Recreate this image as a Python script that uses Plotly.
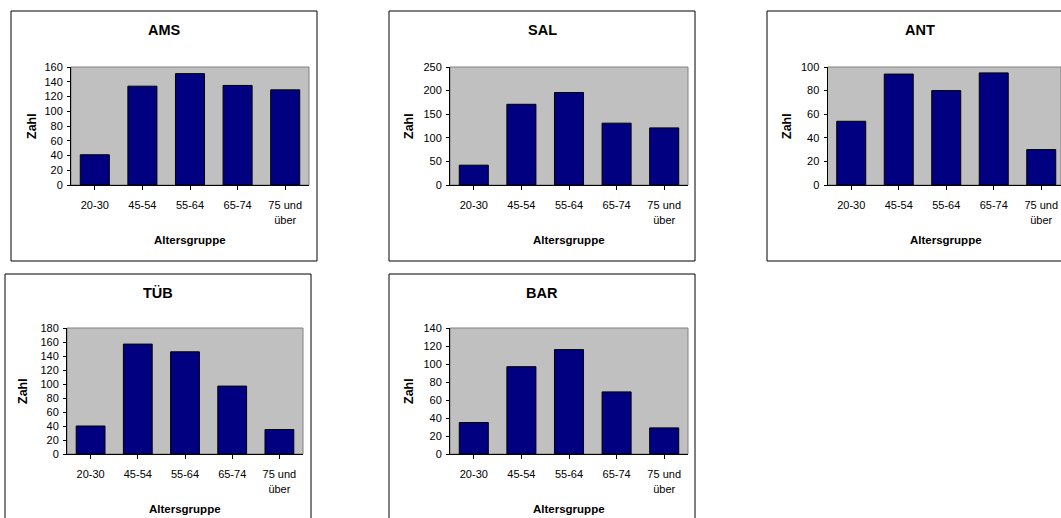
import plotly.graph_objects as go

W, H = 1061, 518

categories = ["20-30", "45-54", "55-64", "65-74", "75 und<br>über"]
titles = ["AMS", "SAL", "ANT", "TÜB", "BAR"]
ams = [41, 134, 151, 135, 129]
sal = [42, 171, 196, 131, 121]
ant = [54, 94, 80, 95, 30]
tub = [40, 157, 146, 97, 35]
bar = [35, 97, 116, 69, 29]
series = [ams, sal, ant, tub, bar]
ymax = [160, 250, 100, 180, 140]
dticks = [20, 50, 20, 20, 20]
x_title = "Altersgruppe"
y_title = "Zahl"

# layout (pixels)
boxes = [(11, 11), (389, 11), (767, 11), (5, 274), (389, 274)]
BW, BH = 306, 250
plots = [(71, 309, 67, 185), (450, 688, 67, 185), (827.5, 1065, 67, 185),
         (67, 303, 328, 454), (450, 688, 328, 454)]
zahl_x = [32, 409, 787, 23, 409]

FONT = "Liberation Sans, Arial, sans-serif"


def px(x):
    return x / W


def py(y):
    return 1 - y / H


fig = go.Figure()
shapes = []
annotations = []

for i in range(5):
    n = "" if i == 0 else str(i + 1)
    x0, x1, y0, y1 = plots[i]
    xr_right = 4.5
    if x1 > W:
        xr_right = -0.5 + 5 * (W - x0) / (x1 - x0)
        x1 = W
    fig.add_trace(go.Bar(
        x=list(range(5)), y=series[i], xaxis="x" + n, yaxis="y" + n,
        marker=dict(color="#000080", line=dict(color="#000000", width=1)),
        showlegend=False, hoverinfo="x+y",
    ))
    fig.layout["xaxis" + n] = dict(
        domain=[px(x0), px(x1)], anchor="y" + n, automargin=False,
        range=[-0.5, xr_right], tickmode="array", tickvals=list(range(5)),
        ticktext=categories, tickson="boundaries",
        ticks="outside", ticklen=4, tickcolor="black", tickwidth=1,
        showline=True, linecolor="black", linewidth=1,
        showgrid=False, zeroline=False, fixedrange=True,
        tickfont=dict(family=FONT, size=11, color="black"),
        ticklabelstandoff=6,
    )
    fig.layout["yaxis" + n] = dict(
        domain=[py(y1), py(y0)], anchor="x" + n, automargin=False,
        range=[0, ymax[i]], tickmode="linear", tick0=0, dtick=dticks[i],
        ticks="outside", ticklen=3, tickcolor="black", tickwidth=1,
        showline=True, linecolor="black", linewidth=1,
        showgrid=False, zeroline=False, fixedrange=True,
        tickfont=dict(family=FONT, size=11, color="black"),
        ticklabelstandoff=2,
    )
    # plot area border
    shapes.append(dict(type="rect", xref="x" + n + " domain", yref="y" + n + " domain",
                       x0=0, x1=1, y0=0, y1=1, line=dict(color="#808080", width=1),
                       layer="below"))
    # chart box
    bx, by = boxes[i]
    shapes.append(dict(type="rect", xref="paper", yref="paper",
                       x0=px(bx), x1=px(bx + BW), y0=py(by + BH), y1=py(by),
                       line=dict(color="black", width=1), layer="above"))
    # title
    annotations.append(dict(text="<b>%s</b>" % titles[i], xref="paper", yref="paper",
                            x=px(bx + BW / 2), y=py(by + 19), showarrow=False,
                            xanchor="center", yanchor="middle",
                            font=dict(family=FONT, size=14.5, color="black")))
    # x title
    pcx = (plots[i][0] + plots[i][1]) / 2
    annotations.append(dict(text="<b>%s</b>" % x_title, xref="paper", yref="paper",
                            x=px(pcx), y=py(y1 + 55), showarrow=False,
                            xanchor="center", yanchor="middle",
                            font=dict(family=FONT, size=11.5, color="black")))
    # y title
    annotations.append(dict(text="<b>%s</b>" % y_title, xref="paper", yref="paper",
                            x=px(zahl_x[i]), y=py((y0 + y1) / 2), showarrow=False,
                            xanchor="center", yanchor="middle", textangle=-90,
                            font=dict(family=FONT, size=12.5, color="black")))

fig.update_layout(
    width=W, height=H, margin=dict(l=0, r=0, t=0, b=0, autoexpand=False),
    paper_bgcolor="white", plot_bgcolor="#C0C0C0",
    bargap=0.39, shapes=shapes, annotations=annotations,
    font=dict(family=FONT, color="black"),
)

post = ("document.body.style.margin='0';document.body.style.overflow='hidden';"
        "var d=document.getElementById('{plot_id}');d.style.position='fixed';"
        "d.style.left='0px';d.style.top='0px';")
fig.write_html("out.html", config={"displayModeBar": False}, post_script=post)
